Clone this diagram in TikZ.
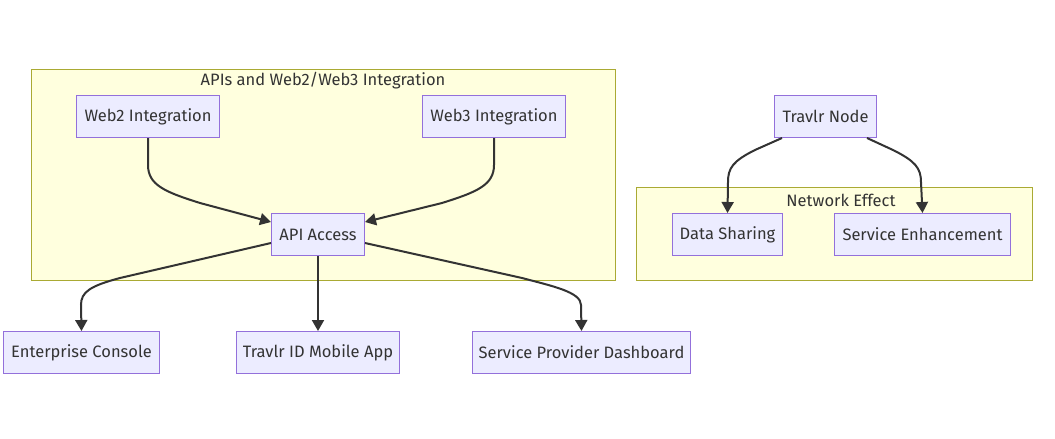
\documentclass[tikz,border=0pt]{standalone}
\usepackage{fontspec}
\setmainfont{Fira Sans}
\usetikzlibrary{arrows.meta}
\definecolor{nodefill}{HTML}{ECECFF}
\definecolor{nodeline}{HTML}{9370DB}
\definecolor{clfill}{HTML}{FFFFDE}
\definecolor{clline}{HTML}{AAAA33}
\definecolor{txt}{HTML}{333333}
\tikzset{
  box/.style={draw=nodeline, fill=nodefill, line width=1pt, text=txt, font=\fontsize{16.5}{19}\selectfont, inner sep=0pt, anchor=north west},
  cluster/.style={draw=clline, fill=clfill, line width=1pt},
  cltitle/.style={text=txt, font=\fontsize{16.5}{19}\selectfont},
  edge/.style={draw=txt, line width=2pt, -{Triangle[length=11pt,width=12pt]}},
}
\begin{document}
\begin{tikzpicture}[x=1pt,y=-1pt]
\useasboundingbox[fill=white] (0,0) rectangle (1055,439);
% clusters
\draw[cluster] (31,69) rectangle (615,280);
\node[cltitle] (t1) at (323,81) {APIs and Web2/Web3 Integration};
\draw[cluster] (636,187) rectangle (1032,280);
\node[cltitle] (t2) at (841,200) {Network Effect};
% nodes
\node[box, minimum width=143pt, minimum height=42pt] (web2) at (76,95) {Web2 Integration};
\node[box, minimum width=143pt, minimum height=42pt] (web3) at (422,95) {Web3 Integration};
\node[box, minimum width=93pt, minimum height=42pt] (api) at (271,213) {API Access};
\node[box, minimum width=156pt, minimum height=42pt] (ec) at (3,331) {Enterprise Console};
\node[box, minimum width=163pt, minimum height=42pt] (app) at (236,331) {Travlr ID Mobile App};
\node[box, minimum width=218pt, minimum height=42pt] (spd) at (472,331) {Service Provider Dashboard};
\node[box, minimum width=102pt, minimum height=42pt] (tn) at (774,95) {Travlr Node};
\node[box, minimum width=110pt, minimum height=42pt] (ds) at (672,213) {Data Sharing};
\node[box, minimum width=176pt, minimum height=42pt] (se) at (834,213) {Service Enhancement};
% edges
\draw[edge] (web2.south) -- (148,165) .. controls (148,185) and (165,192) .. (200,203) -- (api.west |- 0,222);
\draw[edge] (web3.south) -- (494,165) .. controls (494,185) and (477,192) .. (442,203) -- (api.east |- 0,222);
\draw[edge] (api.west |- 0,243) -- (120,278) .. controls (90,286) and (81,292) .. (81,305) -- (ec.north);
\draw[edge] (api.south) -- (app.north);
\draw[edge] (api.east |- 0,243) -- (522,278) .. controls (552,286) and (581,292) .. (581,305) -- (spd.north);
\draw[edge] (tn.south west) ++(8,0) coordinate (c1) -- (755,150) .. controls (733,161) and (728,168) .. (728,182) -- (ds.north);
\draw[edge] (tn.south east) ++(-10,0) coordinate (c2) -- (893,150) .. controls (915,161) and (921,168) .. (921,182) -- (se.north);
\end{tikzpicture}
\end{document}
